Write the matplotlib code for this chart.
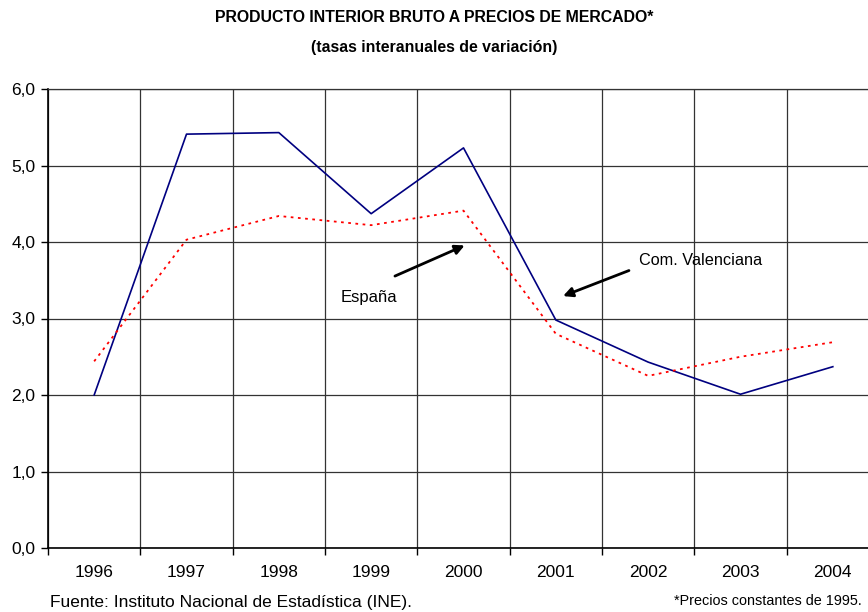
import matplotlib.pyplot as plt
import numpy as np

plt.rcParams['font.family'] = ['Liberation Sans', 'DejaVu Sans']

years = ['1996', '1997', '1998', '1999', '2000', '2001', '2002', '2003', '2004']
com_valenciana = [2.00, 5.41, 5.43, 4.37, 5.23, 2.98, 2.43, 2.01, 2.37]
espana = [2.44, 4.03, 4.34, 4.22, 4.41, 2.80, 2.25, 2.50, 2.69]
yticks = [0, 1, 2, 3, 4, 5, 6]

fig = plt.figure(figsize=(8.68, 6.12), dpi=100)
ax = fig.add_axes([48 / 868, 64 / 612, 831 / 868, 459 / 612])

x = np.arange(len(years))
ax.plot(x, com_valenciana, color='#000080', linewidth=1.2, zorder=3)
ax.plot(x, espana, color='#ff0000', linewidth=1.3, linestyle=(0, (1.5, 2.5)), zorder=3)

ax.set_xlim(-0.5, len(years) - 0.5)
ax.set_ylim(0, 6)
ax.set_yticks(yticks)
ax.set_yticklabels([f'{v:.1f}'.replace('.', ',') for v in yticks], fontsize=12.5)
ax.set_xticks(x)
ax.set_xticklabels(years, fontsize=12.5)
ax.tick_params(axis='x', which='major', length=0, pad=12)
ax.set_xticks(np.arange(-0.5, len(years)), minor=True)
ax.tick_params(axis='x', which='minor', length=5, width=1, direction='out')
ax.tick_params(axis='y', length=5, width=1, direction='out', pad=4)

ax.grid(True, axis='y', color='#333333', linewidth=0.9)
ax.grid(True, axis='x', which='minor', color='#333333', linewidth=0.9)
for s in ax.spines.values():
    s.set_linewidth(1.2)
ax.spines['right'].set_visible(False)
ax.spines['top'].set_color('#333333')
ax.spines['top'].set_linewidth(0.9)

# arrows and labels
ax.annotate('', xy=(4.04, 3.97), xytext=(3.23, 3.54),
            arrowprops=dict(arrowstyle='-|>', color='black', lw=2, mutation_scale=14))
ax.text(2.98, 3.28, 'España', fontsize=12, ha='center', va='center')
ax.annotate('', xy=(5.05, 3.28), xytext=(5.82, 3.64),
            arrowprops=dict(arrowstyle='-|>', color='black', lw=2, mutation_scale=14))
ax.text(6.57, 3.76, 'Com. Valenciana', fontsize=11.7, ha='center', va='center')

fig.text(0.5, 0.972, 'PRODUCTO INTERIOR BRUTO A PRECIOS DE MERCADO*', fontsize=11.4,
         fontweight='bold', ha='center', va='center')
fig.text(0.5, 0.923, '(tasas interanuales de variación)', fontsize=11.4,
         fontweight='bold', ha='center', va='center')
fig.text(50 / 868, 1 - 603 / 612, 'Fuente: Instituto Nacional de Estadística (INE).',
         fontsize=12.5, ha='left', va='center')
fig.text(862 / 868, 1 - 601 / 612, '*Precios constantes de 1995.',
         fontsize=10.4, ha='right', va='center')

fig.savefig('out.png', dpi=100)
